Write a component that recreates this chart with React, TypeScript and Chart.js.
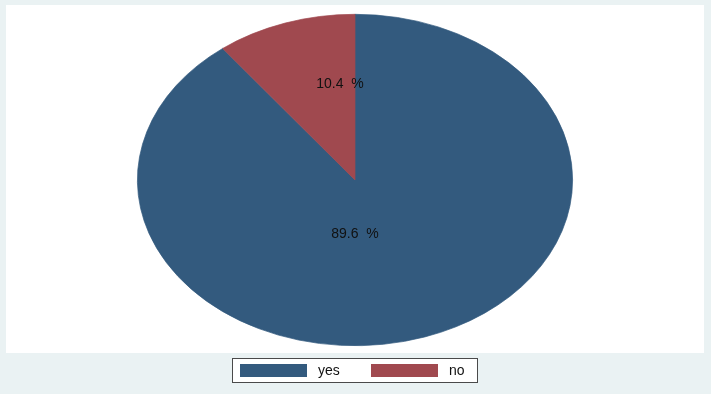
import React, { useEffect, useRef } from "react";
import { Chart, registerables } from "chart.js";

Chart.register(...registerables);

const categories = ["yes", "no"];
const shares = [89.6, 10.4];
const sliceColors = ["#335A7E", "#A0494F"];
// label placement: fraction of radius along mid-angle, and horizontal damping
const labelRadius = [0.343, 0.612];
const labelXFactor = [0.0, 0.35];

const W = 711;
const H = 394;
const FONT = '"Liberation Sans", Arial, sans-serif';
const STRETCH = 218 / 166;

const stataPlugin = {
  id: "stata",
  beforeDraw(chart: any) {
    const ctx = chart.ctx;
    ctx.save();
    ctx.fillStyle = "#EAF2F3";
    ctx.fillRect(0, 0, W, H);
    ctx.fillStyle = "#FFFFFF";
    ctx.fillRect(6, 5, 698, 348);
    ctx.restore();
  },
  beforeDatasetsDraw(chart: any) {
    const ctx = chart.ctx;
    const arc = chart.getDatasetMeta(0).data[0];
    ctx.save();
    ctx.translate(arc.x, arc.y);
    ctx.scale(STRETCH, 1);
    ctx.translate(-arc.x, -arc.y);
  },
  afterDatasetsDraw(chart: any) {
    const ctx = chart.ctx;
    ctx.restore();
    const meta = chart.getDatasetMeta(0);
    ctx.save();
    ctx.font = `14px ${FONT}`;
    ctx.fillStyle = "#111111";
    ctx.textAlign = "center";
    ctx.textBaseline = "middle";
    meta.data.forEach((a: any, i: number) => {
      const mid = (a.startAngle + a.endAngle) / 2;
      const r = a.outerRadius * labelRadius[i];
      const x = a.x + Math.cos(mid) * r * STRETCH * labelXFactor[i];
      const y = a.y + Math.sin(mid) * r;
      ctx.fillText(shares[i].toFixed(1) + "  %", x, y);
    });
    ctx.restore();
  },
  afterDraw(chart: any) {
    const ctx = chart.ctx;
    ctx.save();
    // legend box
    ctx.fillStyle = "#FFFFFF";
    ctx.fillRect(232, 358, 246, 25);
    ctx.strokeStyle = "#4A4A4A";
    ctx.lineWidth = 1;
    ctx.strokeRect(232.5, 358.5, 245, 24);
    ctx.font = `14px ${FONT}`;
    ctx.textBaseline = "middle";
    ctx.textAlign = "left";
    categories.forEach((c, i) => {
      const x0 = 240 + i * 131;
      ctx.fillStyle = sliceColors[i];
      ctx.fillRect(x0, 364, 67, 13);
      ctx.fillStyle = "#111111";
      ctx.fillText(c, x0 + 78, 371);
    });
    ctx.restore();
  },
};

export default function App() {
  const ref = useRef<HTMLCanvasElement>(null);
  useEffect(() => {
    const prevMargin = document.body.style.margin;
    document.body.style.margin = "0";
    const chart = new Chart(ref.current!, {
      type: "pie",
      data: {
        labels: categories,
        datasets: [
          {
            data: shares,
            backgroundColor: sliceColors,
            borderColor: sliceColors,
            borderWidth: 0.6,
          },
        ],
      },
      options: {
        responsive: false,
        animation: false,
        events: [],
        layout: { padding: { top: 14, bottom: 48, left: 189, right: 190 } },
        plugins: {
          legend: { display: false },
          tooltip: { enabled: false },
        },
      },
      plugins: [stataPlugin],
    });
    return () => {
      chart.destroy();
      document.body.style.margin = prevMargin;
    };
  }, []);
  return (
    <div style={{ width: W, height: H }}>
      <canvas ref={ref} width={W} height={H} style={{ display: "block" }} />
    </div>
  );
}
